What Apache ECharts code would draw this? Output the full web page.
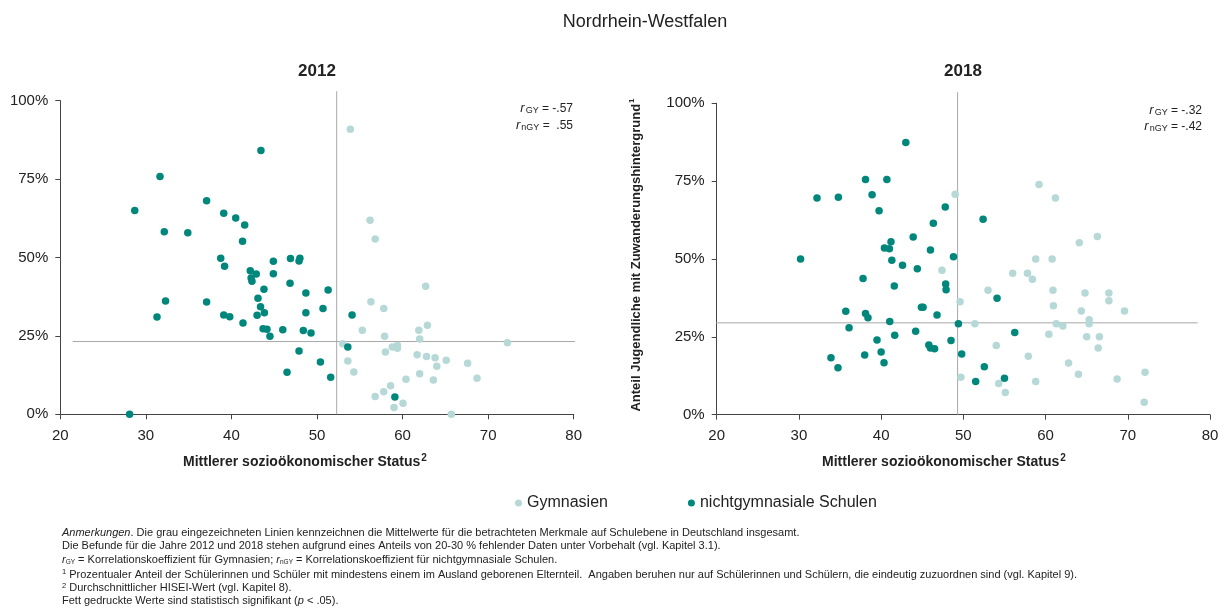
<!DOCTYPE html>
<html><head><meta charset="utf-8">
<script src="https://cdn.jsdelivr.net/npm/echarts@6/dist/echarts.min.js"></script>
<style>html,body{margin:0;padding:0;background:#fff}#c{width:1231px;height:611px}</style>
</head><body><div id="c"></div>
<script>
const xTicks = [20, 30, 40, 50, 60, 70, 80];
const yTicks = [0, 25, 50, 75, 100];

const gy2012 = [[53.9,90.9],[56.2,61.9],[56.8,55.9],[62.7,40.8],[56.3,35.9],[57.8,33.7],[55.3,26.8],[61.9,26.8],[62.9,28.4],[62.0,24.0],[57.9,24.9],[53.0,22.5],[72.25,22.8],[58.8,21.5],[59.4,21.9],[59.4,21.1],[58.0,19.9],[53.6,17.0],[61.7,19.0],[62.8,18.4],[63.8,18.0],[65.1,17.2],[67.6,16.3],[64.0,15.3],[54.3,13.5],[62.0,12.9],[60.4,11.2],[63.6,10.9],[68.7,11.5],[58.6,9.1],[57.8,7.2],[56.8,5.7],[60.05,3.5],[59.0,2.2],[65.7,0]];
const ngy2012 = [[43.45,84.1],[31.65,75.8],[28.7,65.0],[37.1,68.1],[39.1,64.1],[40.5,62.6],[41.55,60.4],[32.15,58.2],[34.9,57.9],[41.3,55.2],[38.75,49.8],[39.2,47.2],[42.2,45.8],[42.9,44.7],[44.9,48.8],[44.9,44.8],[46.9,49.7],[48.0,49.8],[47.9,48.9],[42.3,43.5],[42.4,42.4],[46.85,41.8],[43.8,39.9],[48.7,38.7],[51.3,39.6],[32.3,36.1],[37.1,35.8],[43.1,37.0],[43.4,34.3],[43.85,32.4],[50.7,33.7],[48.7,32.4],[31.3,31.0],[39.1,31.7],[39.8,31.1],[43.0,31.6],[41.35,29.1],[43.7,27.3],[44.15,27.1],[46.0,27.0],[48.4,26.7],[49.3,25.9],[44.5,24.9],[47.9,20.2],[50.4,16.7],[46.5,13.4],[51.6,11.8],[28.1,0.0],[54.1,31.7],[53.6,21.5],[59.1,5.5]];
const gy2018 = [[49.0,70.8],[59.2,73.9],[61.2,69.6],[64.1,55.2],[66.3,57.2],[58.8,50.0],[60.8,50.0],[47.4,46.4],[56.0,45.4],[57.8,45.4],[58.4,43.5],[53.0,40.0],[60.9,40.0],[64.8,39.1],[67.7,39.1],[67.7,36.6],[49.6,36.3],[60.95,35.0],[64.35,33.3],[69.6,33.3],[65.3,30.5],[65.3,29.2],[51.4,29.2],[61.3,29.2],[62.1,28.5],[60.4,25.8],[65.0,25.0],[66.55,25.0],[66.4,21.4],[54.0,22.2],[57.9,18.8],[62.8,16.6],[64.0,13.0],[72.1,13.6],[68.7,11.5],[49.7,12.0],[54.3,10.0],[58.8,10.7],[55.1,7.1],[72.0,4.0]];
const ngy2018 = [[43.0,87.4],[38.1,75.5],[40.7,75.5],[32.2,69.6],[34.8,69.8],[38.9,70.6],[39.75,65.5],[43.9,57.1],[41.2,55.5],[40.4,53.5],[41.0,53.3],[30.2,50.0],[41.3,49.6],[42.6,48.0],[44.4,46.9],[46.0,52.9],[37.8,43.7],[47.8,66.7],[46.35,61.5],[48.8,50.7],[52.4,62.8],[41.6,41.3],[35.7,33.2],[38.1,32.5],[38.4,31.1],[41.05,29.9],[44.9,34.5],[45.1,34.5],[36.1,27.9],[44.2,26.8],[41.65,25.5],[39.5,24.0],[45.8,22.4],[33.9,18.3],[38.0,19.2],[40.0,20.1],[34.75,15.1],[40.35,16.7],[47.85,42.0],[47.9,40.1],[54.1,37.4],[46.8,32.0],[49.4,29.2],[56.25,26.4],[48.5,23.8],[46.0,21.4],[46.5,21.2],[49.8,19.5],[52.55,15.4],[51.5,10.7],[55.0,11.7]];

// mean lines: [meanX, meanY, hLineStart, hLineEnd, vLineTop]
const mean2012 = [52.3, 23.2, 21.45, 80.6, 103];
const mean2018 = [49.3, 29.5, 18.6, 78.5, 103.6];

const corr2012 = ['-.57', ' .55'];
const corr2018 = ['-.32', '-.42'];

const FONT = '"Liberation Sans", Arial, sans-serif';
const DARK = '#00877c';
const LIGHT = '#b6d9d7';
const TXT = '#222';

function xAxis(i){
  return {gridIndex:i, type:'value', min:xTicks[0], max:xTicks[xTicks.length-1], interval:10,
    axisLine:{show:true, onZero:false, lineStyle:{color:'#444', width:1}},
    axisTick:{show:true, length:5, lineStyle:{color:'#444'}},
    axisLabel:{color:TXT, fontSize:15, fontFamily:FONT, margin:14},
    splitLine:{show:false}};
}
function yAxis(i){
  return {gridIndex:i, type:'value', min:yTicks[0], max:yTicks[yTicks.length-1], interval:25,
    axisLine:{show:true, lineStyle:{color:'#444', width:1}},
    axisTick:{show:true, length:5, lineStyle:{color:'#444'}},
    axisLabel:{color:TXT, fontSize:15, fontFamily:FONT, margin:12, formatter: v => v + '%'},
    splitLine:{show:false}};
}
function meanLines(i, m){
  return [
    {type:'line', xAxisIndex:i, yAxisIndex:i, data:[[m[2], m[1]],[m[3], m[1]]], symbol:'none', clip:false, silent:true, z:1,
      lineStyle:{color:'#a8a8a8', width:1}},
    {type:'line', xAxisIndex:i, yAxisIndex:i, data:[[m[0], 0],[m[0], m[4]]], symbol:'none', clip:false, silent:true, z:1,
      lineStyle:{color:'#a8a8a8', width:1}}
  ];
}
function scatter(i, name, data, color, z){
  return {type:'scatter', name:name, xAxisIndex:i, yAxisIndex:i, data:data, symbolSize:7.5, z:z,
    itemStyle:{color:color, opacity:1}};
}
const corrRich = {
  i:{fontStyle:'italic', fontSize:13, fontFamily:FONT, fill:TXT},
  s:{fontSize:9, fontFamily:FONT, fill:TXT, padding:[5,0,0,1]},
  n:{fontSize:12, fontFamily:FONT, fill:TXT}
};
function corrText(x, y, sub, val){
  return {type:'text', right: 1231 - x, top: y - 8, style:{text:'{i|r}{s|' + sub + '}{n| = ' + val + '}', rich:corrRich, textAlign:'right'}};
}
const noteRich = {
  b:{fontSize:11, fontFamily:FONT, fill:TXT},
  it:{fontSize:11, fontFamily:FONT, fill:TXT, fontStyle:'italic'},
  ri:{fontSize:11, fontFamily:FONT, fill:TXT, fontStyle:'italic'},
  sb:{fontSize:6.5, fontFamily:FONT, fill:TXT, padding:[4,0,0,0]},
  sp:{fontSize:7.5, fontFamily:FONT, fill:TXT, padding:[0,0,5,0]}
};
const notes = [
  '{it|Anmerkungen}{b|. Die grau eingezeichneten Linien kennzeichnen die Mittelwerte für die betrachteten Merkmale auf Schulebene in Deutschland insgesamt.}',
  '{b|Die Befunde für die Jahre 2012 und 2018 stehen aufgrund eines Anteils von 20-30 % fehlender Daten unter Vorbehalt (vgl. Kapitel 3.1).}',
  '{ri|r}{sb|GY}{b| = Korrelationskoeffizient für Gymnasien; }{ri|r}{sb|nGY}{b| = Korrelationskoeffizient für nichtgymnasiale Schulen.}',
  '{sp|1}{b| Prozentualer Anteil der Schülerinnen und Schüler mit mindestens einem im Ausland geborenen Elternteil.  Angaben beruhen nur auf Schülerinnen und Schülern, die eindeutig zuzuordnen sind (vgl. Kapitel 9).}',
  '{sp|2}{b| Durchschnittlicher HISEI-Wert (vgl. Kapitel 8).}',
  '{b|Fett gedruckte Werte sind statistisch signifikant (}{it|p}{b| < .05).}'
];
const axisNameRich = {
  a:{fontSize:14, fontWeight:'bold', fontFamily:FONT, fill:TXT},
  sup:{fontSize:10, fontWeight:'bold', fontFamily:FONT, fill:TXT, padding:[0,0,9,1]}
};

const graphics = [
  corrText(573, 110, 'GY', corr2012[0]),
  corrText(573, 127, 'nGY', corr2012[1]),
  corrText(1202, 112, 'GY', corr2018[0]),
  corrText(1202, 128, 'nGY', corr2018[1]),
  {type:'text', left:183, top:453, style:{text:'{a|Mittlerer sozioökonomischer Status}{sup|2}', rich:axisNameRich}},
  {type:'text', left:822, top:453, style:{text:'{a|Mittlerer sozioökonomischer Status}{sup|2}', rich:axisNameRich}},
  {type:'text', x:636, y:255, rotation:Math.PI/2,
    style:{text:'{a|Anteil Jugendliche mit Zuwanderungshintergrund}{sup|1}', align:'center', verticalAlign:'middle',
      rich:{a:{fontSize:13, fontWeight:'bold', fontFamily:FONT, fill:TXT}, sup:{fontSize:8, fontWeight:'bold', fontFamily:FONT, fill:TXT, padding:[0,0,8,1]}}}}
];
notes.forEach((t, k) => {
  graphics.push({type:'text', left:62, top: 527 + k*13.7, style:{text:t, rich:noteRich}});
});

const chart = echarts.init(document.getElementById('c'), null, {renderer:'canvas'});
chart.setOption({
  animation:false,
  backgroundColor:'#fff',
  title:[
    {text:'Nordrhein-Westfalen', left:640, top:8, textAlign:'center', textStyle:{fontSize:18, fontWeight:'normal', color:TXT, fontFamily:FONT}},
    {text:'2012', left:312, top:58, textAlign:'center', textStyle:{fontSize:17, fontWeight:'bold', color:TXT, fontFamily:FONT}},
    {text:'2018', left:958, top:58, textAlign:'center', textStyle:{fontSize:17, fontWeight:'bold', color:TXT, fontFamily:FONT}}
  ],
  legend:{left:510, top:490, itemWidth:7, itemHeight:7, itemGap:80, icon:'circle',
    textStyle:{fontSize:16, color:TXT, fontFamily:FONT}, data:['Gymnasien','nichtgymnasiale Schulen'], selectedMode:false},
  grid:[
    {left:60.3, right:1231-573.7, top:100.7, bottom:611-414.3},
    {left:716.7, right:1231-1210, top:103.3, bottom:611-414.7}
  ],
  xAxis:[xAxis(0), xAxis(1)],
  yAxis:[yAxis(0), yAxis(1)],
  series:[
    ...meanLines(0, mean2012),
    ...meanLines(1, mean2018),
    scatter(0, 'Gymnasien', gy2012, LIGHT, 3),
    scatter(0, 'nichtgymnasiale Schulen', ngy2012, DARK, 4),
    scatter(1, 'Gymnasien', gy2018, LIGHT, 3),
    scatter(1, 'nichtgymnasiale Schulen', ngy2018, DARK, 4)
  ],
  graphic: graphics
});
</script></body></html>
